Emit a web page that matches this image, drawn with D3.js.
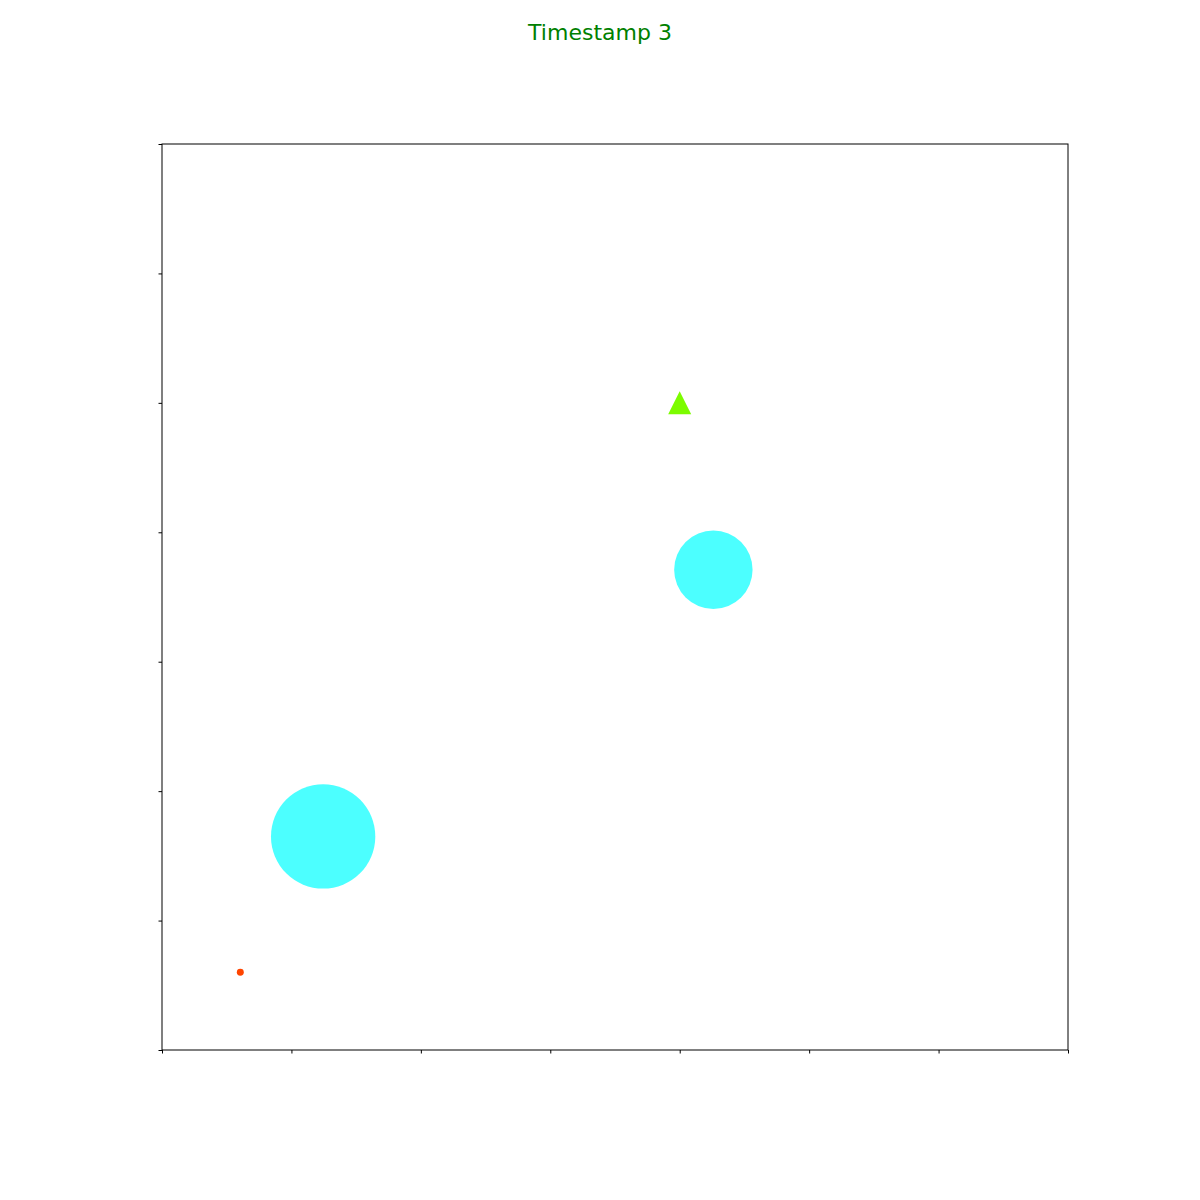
<!DOCTYPE html>
<html><head><meta charset="utf-8">
<script src="https://cdn.jsdelivr.net/npm/d3@7"></script>
<style>body{margin:0;background:#fff}svg{display:block}</style>
</head><body>
<script>
const title = "Timestamp 3";
const xTicks = [0,1,2,3,4,5,6,7];
const yTicks = [0,1,2,3,4,5,6,7];
const circleX = [0.605, 1.245, 4.26];
const circleY = [0.60, 1.65, 3.71];
const circleR = [0.027, 0.403, 0.303];
const circleColor = ["#ff4500", "#00ffff", "#00ffff"];
const circleAlpha = [1, 0.7, 0.7];
const triX = [4.0];
const triY = [5.0];
const triColor = ["#7cfc00"];

const W = 1200, H = 1200;
const m = {left:162, right:132, top:144, bottom:150};
const svg = d3.select("body").append("svg").attr("width", W).attr("height", H);
const x = d3.scaleLinear().domain([0,7]).range([m.left, W - m.right]);
const y = d3.scaleLinear().domain([0,7]).range([H - m.bottom, m.top]);

svg.append("text").attr("x", 600).attr("y", 40).attr("text-anchor","middle")
  .attr("font-family","DejaVu Sans").attr("font-size", 22).attr("fill","#008000").text(title);

const g = svg.append("g");
g.selectAll("circle.c").data(circleX.map((d,i)=>i)).join("circle")
  .attr("cx", i => x(circleX[i])).attr("cy", i => y(circleY[i]))
  .attr("r", i => x(circleR[i]) - x(0))
  .attr("fill", i => circleColor[i]).attr("fill-opacity", i => circleAlpha[i]);

g.selectAll("path.t").data(triX.map((d,i)=>i)).join("path")
  .attr("d", i => {
    const cx = x(triX[i]), cy = y(triY[i]), s = 11.5;
    return `M${cx},${cy - s}L${cx + s},${cy + s}L${cx - s},${cy + s}Z`;
  })
  .attr("fill", i => triColor[i]);

// frame
svg.append("rect").attr("x", x(0)).attr("y", y(7)).attr("width", x(7)-x(0)).attr("height", y(0)-y(7))
  .attr("fill","none").attr("stroke","#000").attr("stroke-width",1);

const xa = svg.append("g").attr("transform", `translate(0,${y(0)})`)
  .call(d3.axisBottom(x).tickValues(xTicks).tickFormat("").tickSize(3.5).tickSizeOuter(0));
const ya = svg.append("g").attr("transform", `translate(${x(0)},0)`)
  .call(d3.axisLeft(y).tickValues(yTicks).tickFormat("").tickSize(3.5).tickSizeOuter(0));
[xa, ya].forEach(a => { a.select(".domain").remove(); a.selectAll("line").attr("stroke","#000").attr("stroke-width",1); });
</script>
</body></html>
